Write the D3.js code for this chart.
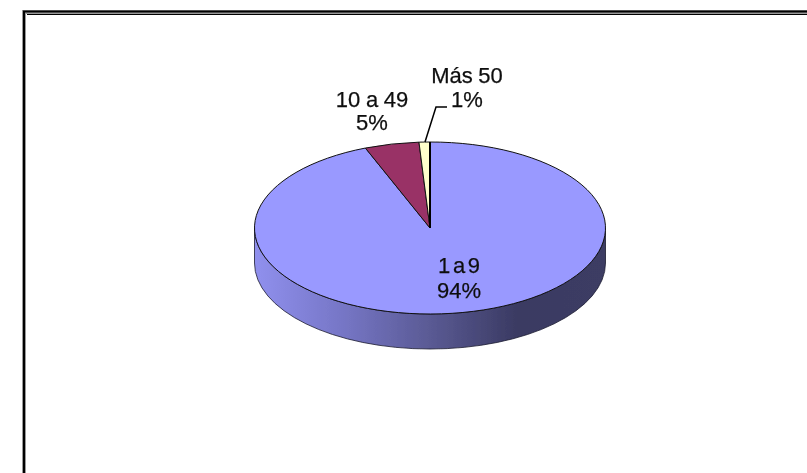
<!DOCTYPE html>
<html>
<head>
<meta charset="utf-8">
<script src="https://d3js.org/d3.v7.min.js"></script>
<style>
  html, body { margin: 0; padding: 0; background: #fff; overflow: hidden; }
  text { font-family: "Liberation Sans", Arial, sans-serif; fill: #111; stroke: #111; stroke-width: 0.25; }
</style>
</head>
<body>
<div id="myplot"></div>
<script>
  const categories = ["1 a 9", "10 a 49", "Más 50"];
  const values = [94, 5, 1];
  const colors = ["#9999ff", "#993366", "#ffffcc"];
  const sideStops = ["#9090ee", "#7676c6", "#5a5a94", "#3a3a62", "#3c3c64"];

  const width = 807;
  const height = 473;
  const cx = 430;
  const cy = 228;
  const rx = 175.5;
  const ry = 86;
  const depth = 35;

  const svg = d3.select("#myplot").append("svg").attr("width", width).attr("height", height);

  // blurred look of the original scan
  const defs = svg.append("defs");
  defs.append("filter").attr("id", "soft").append("feGaussianBlur").attr("stdDeviation", 0.45);

  const grad = defs.append("linearGradient").attr("id", "side");
  sideStops.forEach((c, i) => {
    grad.append("stop").attr("offset", i / (sideStops.length - 1)).attr("stop-color", c);
  });

  // --- Frame ---
  const frame = svg.append("g");
  frame.append("path").attr("d", `M24,${height} V12 H${width}`)
    .attr("fill", "none").attr("stroke", "#999").attr("stroke-width", 4);
  frame.append("path").attr("d", `M24,${height} V11.5 H${width}`)
    .attr("fill", "none").attr("stroke", "#000").attr("stroke-width", 2);
  frame.append("path").attr("d", `M27,14.5 H${width}`)
    .attr("fill", "none").attr("stroke", "#000").attr("stroke-width", 1.2);

  // --- Pie ---
  const pieGroup = svg.append("g").attr("filter", "url(#soft)");

  // side wall, lower half of the ellipse pushed down
  pieGroup.append("path")
    .attr("d", `M${cx - rx},${cy} A${rx},${ry} 0 0 0 ${cx + rx},${cy} V${cy + depth} A${rx},${ry} 0 0 1 ${cx - rx},${cy + depth} Z`)
    .attr("fill", "url(#side)")
    .attr("stroke", "#1a1a30")
    .attr("stroke-width", 0.8);

  const pie = d3.pie().sort(null).value((d) => d);
  const arc = d3.arc().innerRadius(0).outerRadius(rx);
  const slices = pie(values);

  pieGroup.append("g")
    .attr("transform", `translate(${cx},${cy}) scale(1,${ry / rx})`)
    .selectAll("path")
    .data(slices)
    .join("path")
    .attr("d", arc)
    .attr("fill", (d, i) => colors[i])
    .attr("stroke", "#111")
    .attr("stroke-width", 1)
    .attr("vector-effect", "non-scaling-stroke");

  // heavier edge where the pie starts
  pieGroup.append("path")
    .attr("d", `M${cx},${cy} V${cy - ry}`)
    .attr("stroke", "#000")
    .attr("stroke-width", 2);

  // --- Leader line for the small slice ---
  pieGroup.append("path")
    .attr("d", "M425,142 L436,107 H447")
    .attr("fill", "none")
    .attr("stroke", "#000")
    .attr("stroke-width", 1.5);

  // --- Labels ---
  const labelPos = [[459, 273, 298], [372, 107, 130], [467, 82.5, 107]];
  const percents = values.map((v) => `${v}%`);
  const labels = svg.append("g").attr("filter", "url(#soft)");
  categories.forEach((c, i) => {
    const [x, y1, y2] = labelPos[i];
    labels.append("text").attr("x", x).attr("y", y1).attr("text-anchor", "middle")
      .attr("font-size", 22).attr("word-spacing", i === 0 ? "-3.5" : "-0.5").text(c);
    labels.append("text").attr("x", x).attr("y", y2).attr("text-anchor", "middle")
      .attr("font-size", 22).text(percents[i]);
  });
</script>
</body>
</html>
